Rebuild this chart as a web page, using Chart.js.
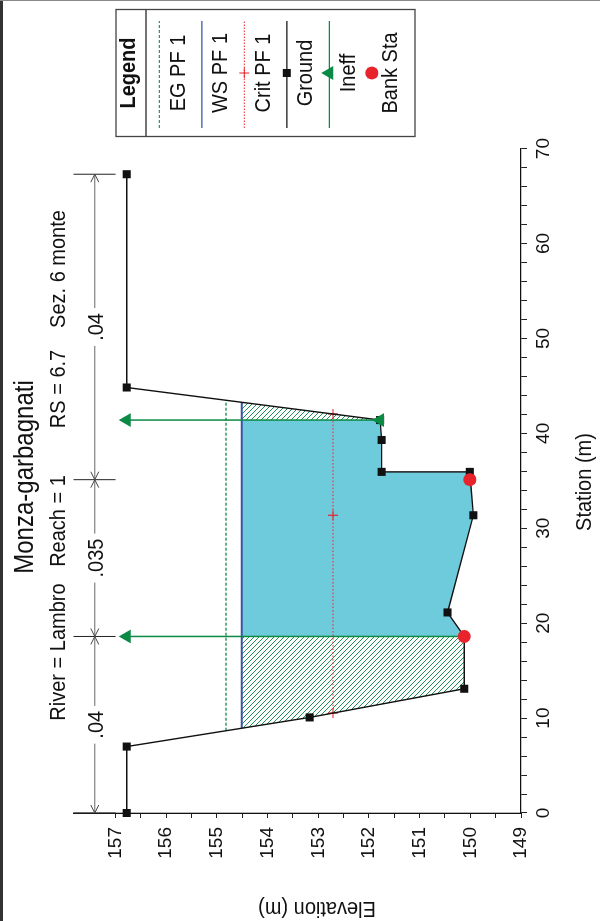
<!DOCTYPE html>
<html>
<head>
<meta charset="utf-8">
<script src="https://cdn.jsdelivr.net/npm/chart.js"></script>
<style>
  html, body { margin: 0; padding: 0; background: #fff; overflow: hidden; }
  #wrap { position: relative; width: 600px; height: 921px; }
  #chartCanvas { position: absolute; left: 0; top: 0; width: 921px; height: 600px;
    transform-origin: 0 0; transform: translate(0, 921px) rotate(-90deg); }
  .edgeLeft { position: absolute; left: 0; top: 0; width: 3px; height: 921px; background: #333; }
  .edgeTop { position: absolute; left: 0; top: 0; width: 600px; height: 1px; background: #888; }
</style>
</head>
<body>
<div id="wrap">
  <canvas id="chartCanvas" width="921" height="600"></canvas>
  <div class="edgeLeft"></div>
  <div class="edgeTop"></div>
</div>
<script>
// cross section data (station m, elevation m)
const groundStations = [0, 7.0, 10.07, 13.09, 18.6, 21.13, 31.37, 35.94, 35.94, 39.3, 41.4, 44.83, 67.3];
const groundElevations = [156.78, 156.78, 153.17, 150.12, 150.12, 150.45, 149.94, 150.01, 151.75, 151.75, 151.78, 156.78, 156.78];
const bankStations = [18.6, 35.12];
const bankElevations = [150.12, 150.01];
const wsElevation = 154.51;
const wsStations = [8.93, 43.27];
const egElevation = 154.82;
const egStations = [8.67, 43.49];
const critElevation = 152.71;
const critStations = [10.53, 31.37, 42.04];
const ineffStations = [18.6, 41.4];
const ineffElevation = 156.78;
const nBreakStations = [0, 18.6, 35.12, 67.3];
const nValues = ['.04', '.035', '.04'];
const legendLabels = ['EG PF 1', 'WS PF 1', 'Crit PF 1', 'Ground', 'Ineff', 'Bank Sta'];

const chartTitle = 'Monza-garbagnati';
const subTitleParts = ['River = Lambro', 'Reach = 1', 'RS = 6.7', 'Sez. 6 monte'];
const xTitle = 'Station (m)';
const yTitle = 'Elevation (m)';

const FONT = "'Liberation Sans', Arial, sans-serif";
const GREEN = '#0b8a45';
const RED = '#e8232b';
const STRETCH = 1.12; // source glyphs are a bit taller than wide

const ground = groundStations.map((s, i) => ({ x: s, y: groundElevations[i] }));

// polygons for the flow area, split by the ineffective stations
const leftHatch = [{ x: wsStations[0], y: wsElevation }]
  .concat(ground.filter(p => p.x > wsStations[0] && p.x <= ineffStations[0]))
  .concat([{ x: ineffStations[0], y: wsElevation }]);
const waterArea = [{ x: ineffStations[0], y: wsElevation }]
  .concat(ground.filter(p => p.x >= ineffStations[0] && p.x <= ineffStations[1]))
  .concat([{ x: ineffStations[1], y: wsElevation }]);
const rightHatch = [{ x: ineffStations[1], y: wsElevation }]
  .concat(ground.filter(p => p.x >= ineffStations[1] && p.x < wsStations[1]))
  .concat([{ x: wsStations[1], y: wsElevation }]);

function makeHatch(color) {
  const c = document.createElement('canvas');
  c.width = 5; c.height = 5;
  const g = c.getContext('2d');
  g.strokeStyle = color;
  g.lineWidth = 1;
  g.beginPath();
  g.moveTo(-1, -1); g.lineTo(6, 6);
  g.moveTo(4, -1); g.lineTo(6, 1);
  g.moveTo(-1, 4); g.lineTo(1, 6);
  g.stroke();
  return g.createPattern(c, 'repeat');
}
const hatch = makeHatch('#1f9155');

function line(ctx, x1, y1, x2, y2) {
  ctx.beginPath(); ctx.moveTo(x1, y1); ctx.lineTo(x2, y2); ctx.stroke();
}

function tallText(ctx, text, x, y) {
  ctx.save();
  ctx.translate(x, y);
  ctx.scale(1, STRETCH);
  ctx.fillText(text, 0, 0);
  ctx.restore();
}

// Manning's n bar above the section
function drawManning(chart) {
  const ctx = chart.ctx, xs = chart.scales.x, ys = chart.scales.y;
  const top = chart.chartArea.top;
  const divBottom = ys.getPixelForValue(157);
  const yDim = ys.getPixelForValue(157.41);
  ctx.save();
  ctx.lineWidth = 1;
  ctx.strokeStyle = '#222';
  nBreakStations.forEach(s => {
    const px = xs.getPixelForValue(s);
    line(ctx, px, top, px, divBottom);
  });
  ctx.font = '20px ' + FONT;
  ctx.textAlign = 'center';
  ctx.textBaseline = 'alphabetic';
  for (let i = 0; i < nValues.length; i++) {
    const a = xs.getPixelForValue(nBreakStations[i]);
    const b = xs.getPixelForValue(nBreakStations[i + 1]);
    const mid = (a + b) / 2;
    const half = ctx.measureText(nValues[i]).width / 2 + 5;
    ctx.strokeStyle = '#666';
    line(ctx, a, yDim, mid - half, yDim);
    line(ctx, mid + half, yDim, b, yDim);
    ctx.strokeStyle = '#444';
    ctx.beginPath();
    ctx.moveTo(a + 8, yDim - 4); ctx.lineTo(a, yDim); ctx.lineTo(a + 8, yDim + 4);
    ctx.moveTo(b - 8, yDim - 4); ctx.lineTo(b, yDim); ctx.lineTo(b - 8, yDim + 4);
    ctx.stroke();
    ctx.fillStyle = '#111';
    tallText(ctx, nValues[i], mid, yDim + 8.5);
  }
  ctx.restore();
}

function drawTexts(chart) {
  const ctx = chart.ctx;
  ctx.save();
  ctx.fillStyle = '#111';
  ctx.textBaseline = 'alphabetic';
  ctx.textAlign = 'center';
  ctx.font = '24px ' + FONT;
  tallText(ctx, chartTitle, 444, 32.5);
  ctx.font = '20px ' + FONT;
  const centers = [269, 400, 532, 652];
  subTitleParts.forEach((t, i) => tallText(ctx, t, centers[i], 64.5));
  tallText(ctx, xTitle, 439, 591);
  ctx.translate(19, 317);
  ctx.rotate(-Math.PI / 2);
  tallText(ctx, yTitle, 0, 0);
  ctx.restore();
}

function drawLegend(chart) {
  const ctx = chart.ctx;
  const L = { left: 784.5, right: 911.5, top: 116, bottom: 415 };
  const cx = (L.left + L.right) / 2;
  ctx.save();
  ctx.strokeStyle = '#444';
  ctx.lineWidth = 1.3;
  ctx.strokeRect(L.left, L.top, L.right - L.left, L.bottom - L.top);
  line(ctx, L.left, 146, L.right, 146);
  ctx.fillStyle = '#111';
  ctx.textAlign = 'center';
  ctx.font = 'bold 20px ' + FONT;
  tallText(ctx, 'Legend', cx, 135);
  ctx.font = '20px ' + FONT;
  legendLabels.forEach((label, i) => {
    const y = 159.3 + 42.5 * i;
    const x1 = 793, x2 = 900;
    ctx.setLineDash([]);
    ctx.lineWidth = 1.3;
    if (i === 0) { ctx.strokeStyle = '#2f9a5f'; ctx.setLineDash([3, 2]); line(ctx, x1, y, x2, y); }
    if (i === 1) { ctx.strokeStyle = '#3a55a8'; line(ctx, x1, y, x2, y); }
    if (i === 2) {
      ctx.strokeStyle = RED; ctx.lineWidth = 1; ctx.setLineDash([1.5, 1.5]); line(ctx, x1, y, x2, y);
      ctx.setLineDash([]); line(ctx, cx - 5, y, cx + 5, y); line(ctx, cx, y - 5, cx, y + 5);
    }
    if (i === 3) {
      ctx.strokeStyle = '#111'; line(ctx, x1, y, x2, y);
      ctx.fillStyle = '#111'; ctx.fillRect(cx - 4, y - 4, 8, 8);
    }
    if (i === 4) {
      ctx.strokeStyle = GREEN; line(ctx, x1, y, x2, y);
      ctx.fillStyle = GREEN;
      ctx.beginPath(); ctx.moveTo(cx, y - 8); ctx.lineTo(cx + 7, y + 4); ctx.lineTo(cx - 7, y + 4); ctx.closePath(); ctx.fill();
    }
    if (i === 5) {
      ctx.fillStyle = RED; ctx.beginPath(); ctx.arc(cx, y, 6.5, 0, Math.PI * 2); ctx.fill();
    }
    ctx.setLineDash([]);
    ctx.fillStyle = '#111';
    tallText(ctx, label, cx, y + 25.5);
  });
  ctx.restore();
}

const overlayPlugin = {
  id: 'overlay',
  afterDatasetsDraw(chart) { drawManning(chart); },
  afterDraw(chart) { drawTexts(chart); drawLegend(chart); }
};

const ctx = document.getElementById('chartCanvas').getContext('2d');
new Chart(ctx, {
  type: 'scatter',
  data: {
    datasets: [
      { label: 'Bank Sta', data: bankStations.map((s, i) => ({ x: s, y: bankElevations[i] })),
        showLine: false, pointStyle: 'circle', pointRadius: 6.5, pointBackgroundColor: RED, pointBorderWidth: 0, clip: false },
      { label: 'Ineff', data: [{ x: ineffStations[0], y: groundElevations[4] }, { x: ineffStations[0], y: ineffElevation }],
        showLine: true, borderColor: GREEN, borderWidth: 1.5, pointStyle: 'triangle', pointRadius: [0, 8],
        pointBackgroundColor: GREEN, pointBorderWidth: 0, clip: false },
      { label: 'Ineff', data: [{ x: ineffStations[1], y: groundElevations[10] }, { x: ineffStations[1], y: ineffElevation }],
        showLine: true, borderColor: GREEN, borderWidth: 1.5, pointStyle: 'triangle', pointRadius: [8, 8],
        pointBackgroundColor: GREEN, pointBorderWidth: 0, clip: false },
      { label: 'Ground', data: ground, showLine: true, borderColor: '#111', borderWidth: 1.4,
        pointStyle: 'rect', pointRadius: 5.7, pointBackgroundColor: '#111', pointBorderWidth: 0, clip: false },
      { label: 'Crit PF 1', data: critStations.map(s => ({ x: s, y: critElevation })), showLine: true,
        borderColor: RED, borderWidth: 1, borderDash: [1.5, 2], pointStyle: 'cross', pointRadius: 5,
        pointBorderColor: RED, pointBorderWidth: 1.2, clip: false },
      { label: 'WS PF 1', data: wsStations.map(s => ({ x: s, y: wsElevation })), showLine: true,
        borderColor: '#3a55a8', borderWidth: 1.8, pointRadius: 0, clip: false },
      { label: 'EG PF 1', data: egStations.map(s => ({ x: s, y: egElevation })), showLine: true,
        borderColor: '#2f9a5f', borderWidth: 1.4, borderDash: [3, 2], pointRadius: 0, clip: false },
      { label: 'hatch L', data: leftHatch, showLine: true, borderWidth: 0, pointRadius: 0,
        fill: 'shape', backgroundColor: hatch },
      { label: 'hatch R', data: rightHatch, showLine: true, borderWidth: 0, pointRadius: 0,
        fill: 'shape', backgroundColor: hatch },
      { label: 'water', data: waterArea, showLine: true, borderWidth: 0, pointRadius: 0,
        fill: 'shape', backgroundColor: '#6ecbdc' }
    ]
  },
  options: {
    responsive: false,
    animation: false,
    events: [],
    layout: { padding: { left: 0, top: 73.5, right: 148.6, bottom: 0 } },
    plugins: { legend: { display: false }, tooltip: { enabled: false }, title: { display: false } },
    scales: {
      x: {
        type: 'linear', position: 'bottom', min: 0, max: 70,
        ticks: { stepSize: 2, autoSkip: false, maxRotation: 0, includeBounds: false, padding: 5,
          color: '#111', font: { family: FONT, size: 19 },
          callback: v => (Math.abs(v % 10) < 1e-6 ? String(Math.round(v)) : '') },
        grid: { drawOnChartArea: false, drawTicks: true, tickLength: 6, color: '#222', lineWidth: 1 },
        border: { display: true, color: '#111', width: 1.3 },
        afterFit: s => { s.height = 79; }
      },
      y: {
        type: 'linear', position: 'left', min: 149, max: 157.83,
        ticks: { stepSize: 0.5, autoSkip: false, includeBounds: false, padding: 9,
          color: '#111', font: { family: FONT, size: 19 },
          callback: v => (Math.abs(v - Math.round(v)) < 1e-6 ? String(Math.round(v)) : '') },
        afterBuildTicks: s => { s.ticks = s.ticks.filter(t => t.value <= 157.001); },
        grid: { drawOnChartArea: false, drawTicks: true, tickLength: 5, color: '#222', lineWidth: 1 },
        border: { display: true, color: '#111', width: 1.3 },
        afterFit: s => { s.width = 108; }
      }
    }
  },
  plugins: [overlayPlugin]
});
</script>
</body>
</html>
